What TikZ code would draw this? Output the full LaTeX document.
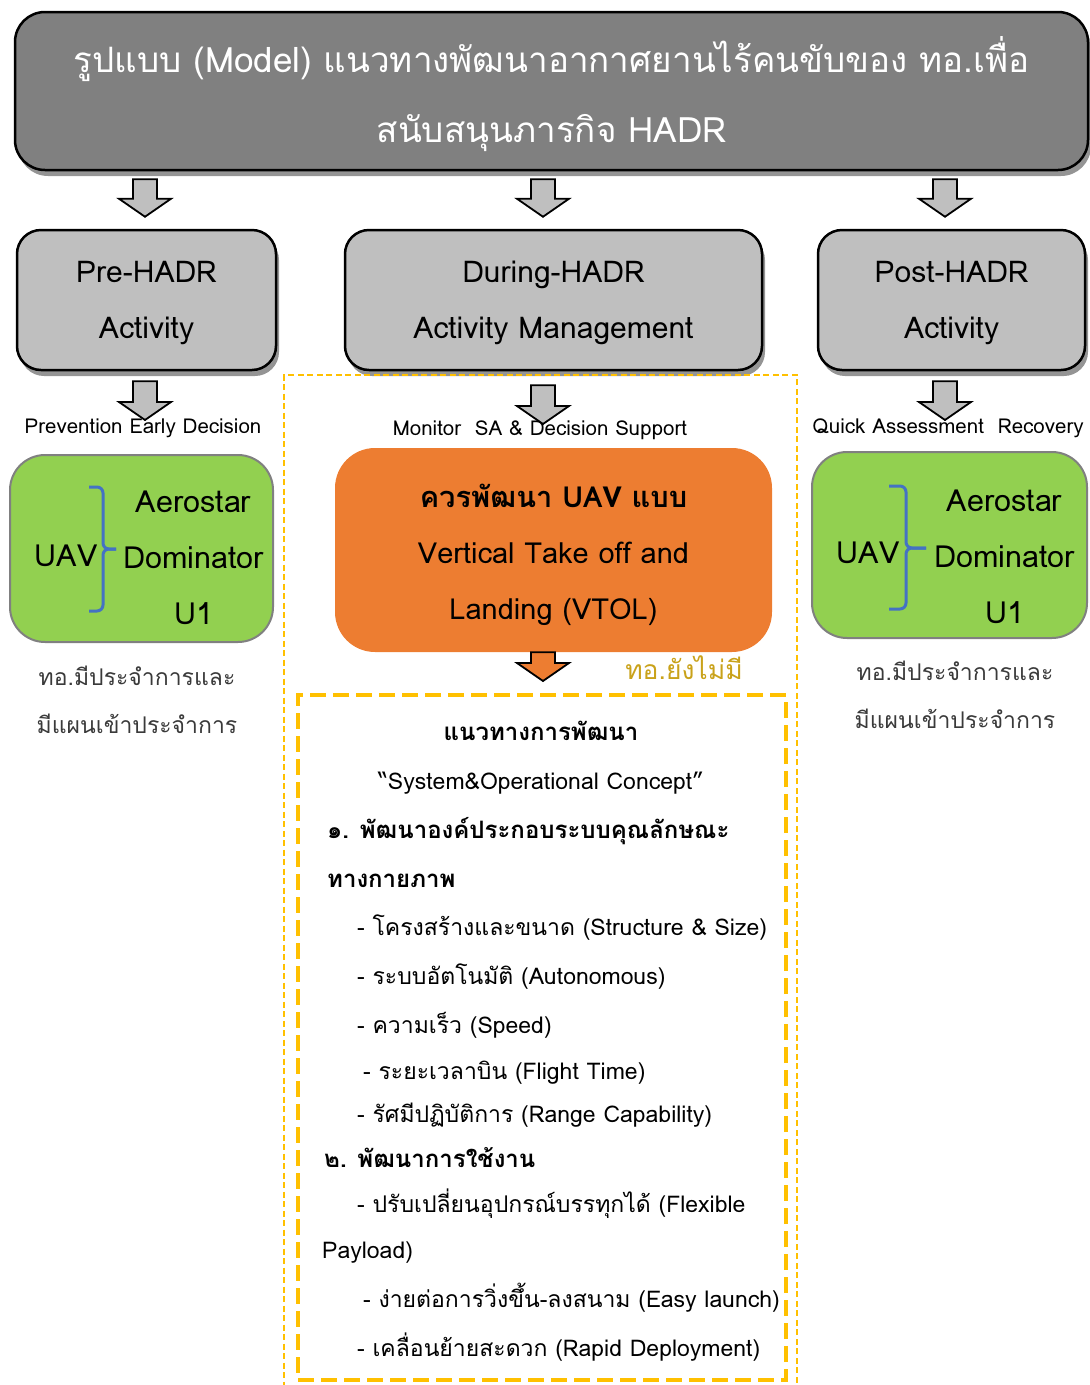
\documentclass[tikz,border=0pt]{standalone}
\usepackage{fontspec}
\setmainfont[Script=Thai]{Loma}
\usetikzlibrary{calc,shadows}
\definecolor{titlegray}{HTML}{808080}
\definecolor{boxgray}{HTML}{BFBFBF}
\definecolor{uavgreen}{HTML}{92D050}
\definecolor{vtolorange}{HTML}{ED7D31}
\definecolor{dashgold}{HTML}{FFC000}
\definecolor{notegold}{HTML}{C9A21A}
\definecolor{braceblue}{HTML}{4472C4}
\definecolor{notegray}{HTML}{3A3A3A}
\tikzset{
  boxshadow/.style={drop shadow={shadow xshift=3pt,shadow yshift=-6pt,fill=black!70,opacity=0.6}},
  titlebox/.style={draw=black, line width=2.5pt, fill=titlegray, rounded corners=30pt, boxshadow},
  titletext/.style={text=white, align=center, font=\fontsize{35}{70}\selectfont},
  phasebox/.style={draw=black, line width=2.5pt, fill=boxgray, rounded corners=24pt, boxshadow},
  phasetext/.style={align=center, font=\fontsize{30}{56}\selectfont},
  uavbox/.style={draw=black!50, line width=2pt, fill=uavgreen, rounded corners=35pt},
  uavtext/.style={align=center, font=\fontsize{30.5}{56}\selectfont},
  steplabel/.style={font=\fontsize{20.5}{24}\selectfont},
  notetext/.style={align=center, text=notegray, font=\fontsize{23}{48}\selectfont},
  grayarrow/.style={draw=black, line width=1.8pt, fill=boxgray, line join=miter},
  orangearrow/.style={draw=black, line width=1.8pt, fill=vtolorange, line join=miter},
  uavbrace/.style={draw=braceblue, line width=3pt, rounded corners=6pt},
  bodyline/.style={anchor=base west, inner sep=0pt, font=\fontsize{23}{30}\selectfont},
  bodyhead/.style={inner sep=0pt, font=\fontsize{24}{30}\selectfont\bfseries},
}
% block arrow: x column, start anchor, end anchor, gap at start, gap at tip
\newcommand\blockarrow[6][]{%
  \path (#3 -| #2) ++(0,#5) coordinate (ta) (#4 -| #2) ++(0,-#6) coordinate (tb);
  \draw[#1] ($(ta)+(-12,0)$) -- ($(ta)+(12,0)$) -- ($(tb)+(12,-18)$) -- ($(tb)+(26,-18)$)
    -- (tb) -- ($(tb)+(-26,-18)$) -- ($(tb)+(-12,-18)$) -- cycle;}
% square brace: x of hooks, x of bar, x of nub, top, middle, bottom
\def\uavbrace(#1,#2,#3)(#4,#5,#6){%
  \draw[uavbrace] (#1,#4) -- (#2,#4) -- (#2,#5) -- (#3,#5);
  \draw[uavbrace] (#1,#6) -- (#2,#6) -- (#2,#5) -- (#3,#5);}
\begin{document}
\begin{tikzpicture}[x=1pt,y=-1pt]
		%%%%% START %%%%%
		\useasboundingbox (0,0) rectangle (1090,1385);
		\coordinate (colA) at (145,0);
		\coordinate (colB) at (543,0);
		\coordinate (colC) at (945,0);
		
		\node[titlebox, minimum width=1073pt, minimum height=158pt] (title) at (551.5,91) {};
		\node[titletext] (titleT) at ($(title.center)+(0,3)$)
			{รูปแบบ (Model) แนวทางพัฒนาอากาศยานไร้คนขับของ ทอ.เพื่อ\\สนับสนุนภารกิจ HADR};
		
		\node[phasebox, minimum width=259pt, minimum height=140pt] (pre) at (146.5,300) {};
		\node[phasebox, minimum width=417pt, minimum height=140pt] (during) at (553.5,300) {};
		\node[phasebox, minimum width=267pt, minimum height=140pt] (post) at (951.5,300) {};
		\node[phasetext] (preT) at ($(pre.center)+(0,3)$) {Pre-HADR\\Activity};
		\node[phasetext] (duringT) at ($(during.center)+(0,3)$) {During-HADR\\Activity Management};
		\node[phasetext] (postT) at ($(post.center)+(0,3)$) {Post-HADR\\Activity};
		
		\blockarrow[grayarrow]{colA}{title.south}{pre.north}{8}{12}
		\blockarrow[grayarrow]{colB}{title.south}{during.north}{8}{12}
		\blockarrow[grayarrow]{colC}{title.south}{post.north}{8}{12}
		
		\node[steplabel] (prelab) at (143,428) {Prevention Early Decision};
		\node[steplabel] (mlab) at (540,430) {Monitor\ \ SA \& Decision Support};
		\node[steplabel] (qlab) at (948,428) {Quick Assessment\ \ Recovery};
		
		\blockarrow[grayarrow]{colA}{pre.south}{prelab.center}{10}{8}
		\blockarrow[grayarrow]{colB}{during.south}{mlab.center}{14}{6}
		\blockarrow[grayarrow]{colC}{post.south}{qlab.center}{10}{8}
		
		% green boxes
		\node[uavbox, minimum width=263pt, minimum height=187pt] (uavL) at (141.5,548.5) {};
		\node[uavtext] (uavLa) at (66,556) {UAV};
		\node[uavtext] (uavLb) at (193.5,558) {Aerostar\\Dominator\\U1};
		\uavbrace(89,103,116)(487,549,611)
		\node[notetext] (noteL) at (137,700) {ทอ.มีประจำการและ\\มีแผนเข้าประจำการ};
		
		\node[uavbox, minimum width=275pt, minimum height=186pt] (uavR) at (949.5,545) {};
		\node[uavtext] (uavRa) at (868,553) {UAV};
		\node[uavtext] (uavRb) at (1004.5,557) {Aerostar\\Dominator\\U1};
		\uavbrace(889,906,926)(486,548,609)
		\node[notetext] (noteR) at (955,695) {ทอ.มีประจำการและ\\มีแผนเข้าประจำการ};
		
		% VTOL
		\node[fill=vtolorange, rounded corners=40pt, minimum width=437pt, minimum height=204pt] (vtol) at (553.5,550) {};
		\node[align=center, font=\fontsize{29}{56}\selectfont] (vtolT) at ($(vtol.center)+(0,5)$)
			{\textbf{ควรพัฒนา UAV แบบ}\\Vertical Take off and\\Landing (VTOL)};
		\node[text=notegold, font=\fontsize{26.5}{32}\selectfont] (notyet) at (684,668) {ทอ.ยังไม่มี};
		
		\node[draw=dashgold, line width=2pt, dash pattern=on 6pt off 3.5pt, minimum width=513pt,
			minimum height=1017pt] (zone) at (540.5,883.5) {};
		\node[draw=dashgold, line width=4pt, dash pattern=on 16pt off 7pt, minimum width=488pt,
			minimum height=685pt] (guide) at (542,1037.5) {};
		\blockarrow[orangearrow]{colB}{vtol.south}{guide.north}{0}{12}
		
		\node[bodyhead, anchor=base] (g1) at (541,740) {แนวทางการพัฒนา};
		\node[bodyline, anchor=base] (g2) at (541,789) {“System\&Operational Concept”};
		\node[bodyhead, anchor=base west] (g3) at (327,838) {๑. พัฒนาองค์ประกอบระบบคุณลักษณะ};
		\node[bodyhead, anchor=base west] (g4) at (327,887) {ทางกายภาพ};
		\node[bodyline] (g5) at (357,935) {- โครงสร้างและขนาด (Structure \& Size)};
		\node[bodyline] (g6) at (357,984) {- ระบบอัตโนมัติ (Autonomous)};
		\node[bodyline] (g7) at (357,1033) {- ความเร็ว (Speed)};
		\node[bodyline] (g8) at (363,1079) {- ระยะเวลาบิน (Flight Time)};
		\node[bodyline] (g9) at (357,1122) {- รัศมีปฏิบัติการ (Range Capability)};
		\node[bodyhead, anchor=base west] (g10) at (324,1167) {๒. พัฒนาการใช้งาน};
		\node[bodyline] (g11) at (357,1212) {- ปรับเปลี่ยนอุปกรณ์บรรทุกได้ (Flexible};
		\node[bodyline] (g12) at (322,1258) {Payload)};
		\node[bodyline] (g13) at (363,1307) {- ง่ายต่อการวิ่งขึ้น-ลงสนาม (Easy launch)};
		\node[bodyline] (g14) at (357,1356) {- เคลื่อนย้ายสะดวก (Rapid Deployment)};
		
		%%%%% END %%%%%
\end{tikzpicture}
\end{document}
